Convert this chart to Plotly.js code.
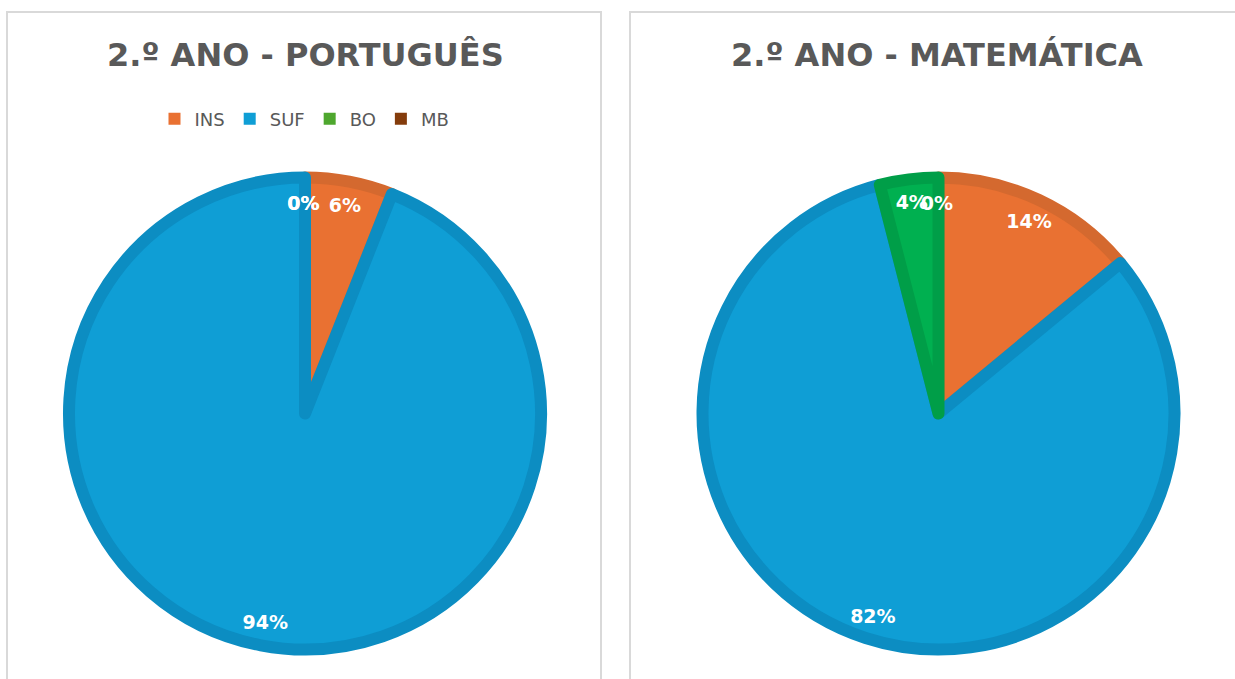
<!DOCTYPE html>
<html>
<head>
<meta charset="utf-8">
<script src="https://cdn.plot.ly/plotly-3.0.1.min.js"></script>
<style>
html, body { margin: 0; padding: 0; background: #ffffff; }
#chart { width: 1235px; height: 679px; }
</style>
</head>
<body>
<div id="chart"></div>
<script>
// ---- data ----
const categories = ['INS', 'SUF', 'BO', 'MB'];
const chartTitles = ['2.º ANO - PORTUGUÊS', '2.º ANO - MATEMÁTICA'];
const portuguesValues = [6, 94, 0, 0];
const matematicaValues = [14, 82, 4, 0];

// ---- styles ----
const portuguesColors = ['#E97132', '#0F9ED5', '#4EA72E', '#843C0C'];
const matematicaColors = ['#E97132', '#0F9ED5', '#00B050', '#843C0C'];
const portuguesBorders = ['#D4692F', '#0C8DC2', '#46962A', '#763609'];
const matematicaBorders = ['#D4692F', '#0C8DC2', '#009E48', '#763609'];

const W = 1235, H = 679;
const PIE_R = 236;        // path radius (px)
const BORDER_W = 12;      // slice outline width
const LABEL_R = 240;      // radius of the (invisible) label ring
const LABEL_HOLE = 0.77;  // ring used to place percentage labels
const ZERO_R = 200;       // radius used for zero-slice labels
const ZERO_DX = 20;       // horizontal nudge of zero-slice label ring

function dom(cx, cy, r) {
  return { x: [(cx - r) / W, (cx + r) / W], y: [1 - (cy + r) / H, 1 - (cy - r) / H] };
}

const labelFont = { family: 'DejaVu Sans', size: 19, color: '#FFFFFF', weight: 'bold' };
const clear = categories.map(() => 'rgba(0,0,0,0)');

function panelTraces(values, colors, borders, cx, cy, legendId) {
  const base = {
    type: 'pie', labels: categories, values: values, sort: false,
    direction: 'clockwise', rotation: 0, hoverinfo: 'none', legend: legendId
  };
  const traces = [
    Object.assign({}, base, {
      domain: dom(cx, cy, PIE_R), marker: { colors: colors },
      textinfo: 'none', showlegend: true
    }),
    Object.assign({}, base, {
      domain: dom(cx, cy, PIE_R),
      marker: { colors: colors, line: { color: borders, width: values.map(v => v > 0 ? BORDER_W : 0) } },
      textinfo: 'none', showlegend: false
    }),
    Object.assign({}, base, {
      domain: dom(cx, cy, LABEL_R), hole: LABEL_HOLE, marker: { colors: clear },
      textinfo: 'percent', textposition: values.map(v => v > 0 ? 'inside' : 'none'),
      insidetextfont: labelFont, textfont: labelFont, showlegend: false
    })
  ];
  // zero-valued slices: one label trace per category so labels are not pushed apart
  categories.forEach((c, k) => {
    if (values[k] !== 0) return;
    traces.push(Object.assign({}, base, {
      domain: dom(cx + ZERO_DX, cy, ZERO_R), marker: { colors: clear },
      textinfo: 'percent',
      textposition: values.map((v, j) => (j === k ? 'outside' : 'none')),
      outsidetextfont: labelFont, textfont: labelFont, showlegend: false
    }));
  });
  return traces;
}

const leftC = [305, 413.5];
const rightC = [938.5, 413.5];

const data = []
  .concat(panelTraces(portuguesValues, portuguesColors, portuguesBorders, leftC[0], leftC[1], 'legend'))
  .concat(panelTraces(matematicaValues, matematicaColors, matematicaBorders, rightC[0], rightC[1], 'legend2'));

const titleFont = { family: 'DejaVu Sans', size: 32, color: '#595959', weight: 'bold' };
const legendFont = { family: 'DejaVu Sans', size: 18, color: '#595959' };

const layout = {
  width: W, height: H,
  margin: { l: 0, r: 0, t: 0, b: 0 },
  paper_bgcolor: '#FFFFFF', plot_bgcolor: '#FFFFFF',
  showlegend: true,
  legend: { orientation: 'h', x: 304.5 / W, xanchor: 'center', y: 1 - 119 / H, yanchor: 'middle',
            font: legendFont, bgcolor: 'rgba(0,0,0,0)' },
  legend2: { orientation: 'h', x: 938 / W, xanchor: 'center', y: 1 - 119 / H, yanchor: 'middle',
             font: legendFont, bgcolor: 'rgba(0,0,0,0)' },
  annotations: [
    { text: chartTitles[0], x: 305.5 / W, y: 1 - 55 / H, xref: 'paper', yref: 'paper',
      showarrow: false, xanchor: 'center', yanchor: 'middle', font: titleFont },
    { text: chartTitles[1], x: 936.5 / W, y: 1 - 55 / H, xref: 'paper', yref: 'paper',
      showarrow: false, xanchor: 'center', yanchor: 'middle', font: titleFont }
  ],
  shapes: [
    { type: 'rect', xref: 'paper', yref: 'paper', x0: 7 / W, x1: 601 / W, y0: -0.1, y1: 1 - 12 / H,
      line: { color: '#D9D9D9', width: 2 }, fillcolor: 'rgba(0,0,0,0)', layer: 'below' },
    { type: 'rect', xref: 'paper', yref: 'paper', x0: 630 / W, x1: 1.1, y0: -0.1, y1: 1 - 12 / H,
      line: { color: '#D9D9D9', width: 2 }, fillcolor: 'rgba(0,0,0,0)', layer: 'below' }
  ]
};

Plotly.newPlot('chart', data, layout, { displayModeBar: false, staticPlot: true });
</script>
</body>
</html>
